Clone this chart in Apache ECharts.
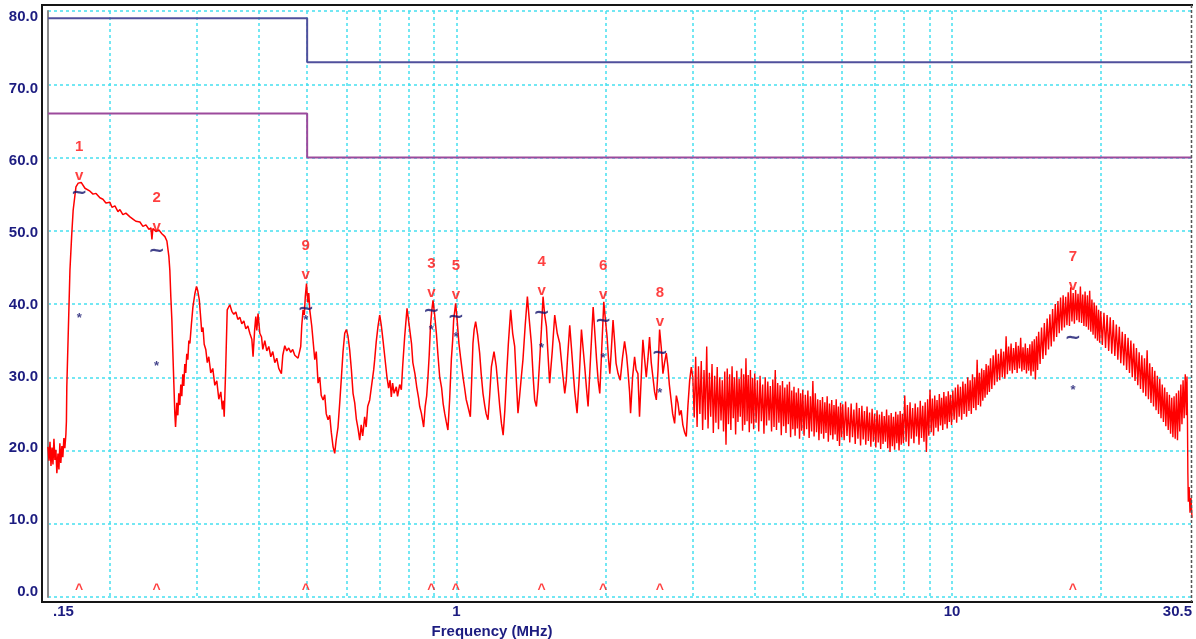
<!DOCTYPE html>
<html>
<head>
<meta charset="utf-8">
<script src="https://cdn.jsdelivr.net/npm/echarts@6/dist/echarts.min.js"></script>
<style>
html,body{margin:0;padding:0;background:#fff;}
#chart{width:1196px;height:639px;}
</style>
</head>
<body>
<div id="chart"></div>
<script>
// ---- Data (frequency in MHz, level in dBuV) ----
const limitQP = [[0.15, 79], [0.5, 79], [0.5, 73], [30.5, 73]];
const limitAV = [[0.15, 66], [0.5, 66], [0.5, 60], [30.5, 60]];

const markerNo   = ['1', '2', '3', '4', '5', '6', '7', '8', '9'];
const markerFreq = [0.1734, 0.2484, 0.8905, 1.486, 0.998, 1.977, 17.54, 2.574, 0.4968];
const markerPeak = [57.7, 50.8, 41.8, 42.0, 41.5, 41.5, 42.8, 37.9, 44.2];
const markerQP   = [55.3, 47.4, 39.2, 38.9, 38.4, 37.9, 35.5, 33.5, 39.5];
const markerAV   = [38.4, 31.9, 36.8, 34.4, 35.9, 33.0, 28.6, 28.2, 38.2];
const markerBaseLevel = 1.6;

const yTickValues = [0, 10, 20, 30, 40, 50, 60, 70, 80];
const xLabelValues = [0.15, 1, 10, 30.5];
const xLabelText = ['{first|.15}', '1', '10', '30.5'];
const xGridValues = [0.2, 0.3, 0.4, 0.5, 0.6, 0.7, 0.8, 0.9, 1, 2, 3, 4, 5, 6, 7, 8, 9, 10, 20];

// measured trace, 0.15 - 3 MHz
const traceLow = [
[0.1500,20.5],[0.1507,18.6],[0.1514,21.2],[0.1521,17.9],[0.1528,20.4],[0.1535,18.1],[0.1542,21.6],[0.1549,18.7],
[0.1556,20.1],[0.1563,16.9],[0.1571,19.6],[0.1578,17.4],[0.1585,21.0],[0.1592,18.3],[0.1600,20.6],[0.1607,19.1],
[0.1615,21.7],[0.1622,20.3],[0.1630,22.2],[0.1634,24.0],[0.1637,28.7],[0.1661,44.6],[0.1674,49.2],[0.1686,52.8],
[0.1708,56.0],[0.1726,56.5],[0.1750,56.6],[0.1781,55.8],[0.1823,55.4],[0.1849,55.0],[0.1875,55.1],[0.1909,54.5],
[0.1936,54.3],[0.1963,53.8],[0.2000,53.9],[0.2019,53.2],[0.2047,53.4],[0.2076,52.6],[0.2095,52.9],[0.2124,52.2],
[0.2154,52.4],[0.2195,51.9],[0.2226,51.6],[0.2256,51.3],[0.2299,51.2],[0.2331,50.6],[0.2364,50.8],[0.2397,50.2],
[0.2420,50.4],[0.2431,48.8],[0.2442,50.3],[0.2476,49.9],[0.2511,50.1],[0.2546,49.6],[0.2582,49.2],[0.2606,48.6],
[0.2630,46.5],[0.2642,44.6],[0.2654,41.0],[0.2667,37.8],[0.2679,33.5],[0.2692,29.0],[0.2704,25.0],[0.2713,23.2],
[0.2729,26.5],[0.2742,24.8],[0.2754,27.8],[0.2767,26.2],[0.2780,29.0],[0.2793,27.4],[0.2806,30.4],[0.2819,28.8],
[0.2832,31.8],[0.2845,30.6],[0.2858,33.2],[0.2872,32.4],[0.2886,35.0],[0.2900,34.6],[0.2920,37.2],[0.2941,39.6],
[0.2968,41.4],[0.2990,42.4],[0.3008,41.8],[0.3029,40.6],[0.3050,38.0],[0.3064,36.2],[0.3082,36.8],[0.3099,34.5],
[0.3122,33.8],[0.3144,32.0],[0.3166,32.8],[0.3195,30.6],[0.3225,31.2],[0.3256,28.9],[0.3286,29.5],[0.3317,27.0],
[0.3348,28.0],[0.3372,25.6],[0.3388,26.8],[0.3401,24.6],[0.3424,31.0],[0.3449,39.2],[0.3491,39.9],[0.3524,39.0],
[0.3556,38.6],[0.3590,38.9],[0.3623,37.9],[0.3657,38.2],[0.3691,37.3],[0.3726,37.7],[0.3760,36.6],[0.3796,37.0],
[0.3831,36.0],[0.3867,35.2],[0.3889,32.8],[0.3918,36.5],[0.3939,38.3],[0.3957,36.4],[0.3980,38.7],[0.4013,36.0],
[0.4045,35.5],[0.4069,33.8],[0.4107,35.0],[0.4145,33.6],[0.4184,34.2],[0.4223,32.8],[0.4262,33.5],[0.4302,32.0],
[0.4342,32.6],[0.4382,31.2],[0.4436,30.5],[0.4465,33.0],[0.4506,34.3],[0.4548,33.6],[0.4590,34.0],[0.4633,33.4],
[0.4676,33.8],[0.4720,33.0],[0.4764,32.8],[0.4793,32.6],[0.4831,33.6],[0.4853,34.2],[0.4876,37.0],[0.4906,39.2],
[0.4934,38.5],[0.4957,41.0],[0.4985,42.8],[0.5014,40.2],[0.5037,41.5],[0.5061,39.2],
[0.5108,37.0],[0.5180,32.4],[0.5216,33.5],[0.5260,29.2],[0.5301,30.0],[0.5338,27.5],[0.5384,26.9],[0.5426,27.6],
[0.5464,25.0],[0.5510,24.2],[0.5553,24.8],[0.5593,22.5],[0.5640,20.5],[0.5683,19.6],[0.5723,21.5],[0.5771,23.2],
[0.5817,26.5],[0.5864,30.1],[0.5907,33.5],[0.5954,36.0],[0.6000,36.5],[0.6045,35.6],[0.6093,33.7],[0.6141,31.0],
[0.6188,27.8],[0.6237,26.5],[0.6286,24.2],[0.6334,23.0],[0.6383,21.4],[0.6427,23.5],[0.6472,22.0],[0.6532,24.6],
[0.6577,23.2],[0.6624,26.0],[0.6686,26.9],[0.6749,29.0],[0.6811,31.0],[0.6843,32.4],[0.6891,34.8],[0.6948,36.9],
[0.7004,38.5],[0.7059,37.0],[0.7111,35.1],[0.7166,33.0],[0.7242,30.1],[0.7300,28.5],[0.7351,29.6],[0.7392,27.3],
[0.7437,29.2],[0.7488,27.8],[0.7565,28.7],[0.7610,27.4],[0.7685,29.0],[0.7745,28.3],[0.7793,31.5],[0.7865,35.5],
[0.7952,39.4],[0.8015,37.6],[0.8120,34.6],[0.8170,32.0],[0.8249,30.5],[0.8317,28.7],[0.8390,27.2],[0.8434,26.0],
[0.8500,25.1],[0.8552,24.0],[0.8591,23.2],[0.8652,26.0],[0.8713,27.5],[0.8766,30.1],[0.8815,33.0],[0.8866,36.9],
[0.8918,39.0],[0.8972,40.5],[0.9042,38.5],[0.9114,36.0],[0.9182,33.0],[0.9254,30.1],[0.9340,28.5],[0.9405,26.4],
[0.9471,25.1],[0.9537,24.0],[0.9616,22.8],[0.9694,27.0],[0.9770,32.4],[0.9830,35.0],[0.9875,37.8],[0.9968,40.1],
[1.0037,37.8],[1.0121,34.6],[1.0202,32.6],[1.0311,30.1],[1.0393,28.5],[1.0465,27.0],[1.0553,26.0],[1.0672,24.6],
[1.0737,29.5],[1.0802,34.6],[1.0862,36.5],[1.0938,37.6],[1.1040,35.8],[1.1144,33.3],[1.1222,30.5],[1.1317,27.8],
[1.1406,26.2],[1.1486,25.0],[1.1583,24.2],[1.1675,27.5],[1.1768,31.4],[1.1912,33.5],[1.2035,31.5],[1.2137,28.7],
[1.2234,26.0],[1.2331,23.7],[1.2429,22.1],[1.2527,25.5],[1.2625,30.1],[1.2731,34.5],[1.2871,39.2],[1.2991,36.0],
[1.3113,34.2],[1.3204,30.0],[1.3315,25.1],[1.3420,27.5],[1.3514,29.8],[1.3627,32.4],[1.3767,37.0],[1.3910,41.0],
[1.4026,38.0],[1.4170,34.6],[1.4290,30.0],[1.4390,26.9],[1.4505,26.0],[1.4614,28.5],[1.4729,32.4],[1.4846,36.5],
[1.4960,41.0],[1.5077,38.5],[1.5197,36.9],[1.5310,33.0],[1.5425,29.2],[1.5612,33.5],[1.5794,38.5],[1.5979,36.0],
[1.6169,34.6],[1.6358,31.0],[1.6547,27.8],[1.6662,29.5],[1.6755,32.4],[1.6935,37.1],[1.7070,34.0],[1.7198,31.0],
[1.7334,28.0],[1.7522,25.1],[1.7700,30.0],[1.7882,36.5],[1.8016,34.0],[1.8159,31.4],[1.8303,28.5],[1.8441,26.0],
[1.8632,32.0],[1.8881,39.6],[1.9031,36.0],[1.9183,32.4],[1.9328,29.5],[1.9471,27.8],[1.9654,34.0],[1.9838,40.3],
[1.9977,38.0],[2.0146,35.5],[2.0277,32.5],[2.0400,30.5],[2.0535,33.5],[2.0709,37.8],[2.0855,35.0],[2.1003,31.9],
[2.1197,30.5],[2.1414,29.6],[2.1626,32.5],[2.1849,34.9],[2.2052,33.0],[2.2185,31.0],[2.2362,28.0],[2.2467,25.1],
[2.2676,30.0],[2.2889,32.8],[2.3050,31.0],[2.3245,30.5],[2.3420,24.6],[2.3608,30.0],[2.3790,35.1],[2.3978,32.5],
[2.4166,30.0],[2.4350,32.5],[2.4536,35.5],[2.4730,32.0],[2.4925,30.0],[2.5120,28.0],[2.5320,26.9],[2.5520,31.0],
[2.5711,36.5],[2.5914,34.0],[2.6112,30.5],[2.6310,32.0],[2.6520,33.3],[2.6720,31.5],[2.6900,29.0],[2.7110,27.0],
[2.7320,25.0],[2.7568,23.7],[2.7790,27.5],[2.7996,26.5],[2.8200,24.8],[2.8420,25.5],[2.8640,23.5],[2.8870,22.5],
[2.9100,21.9],[2.9320,26.0],[2.9560,29.5],[2.9790,31.4],[3.0000,30.0]
];

// measured trace, 3 - 30.5 MHz (dense noise band)
const traceHigh = [
[3.00,30.0],[3.02,24.5],[3.04,32.8],[3.06,23.2],[3.08,31.5],[3.10,25.0],[3.12,32.2],[3.14,22.8],[3.16,31.0],
[3.18,24.2],[3.20,34.2],[3.22,23.0],[3.24,30.6],[3.26,24.6],[3.28,31.8],[3.30,22.4],[3.32,30.2],[3.34,23.8],
[3.36,31.4],[3.38,22.9],[3.40,30.0],[3.42,24.1],[3.44,29.6],[3.46,22.6],[3.48,30.8],[3.50,20.8],[3.52,31.2],
[3.54,23.6],[3.56,30.4],[3.58,22.8],[3.60,31.5],[3.62,24.4],[3.64,30.0],[3.66,22.2],[3.68,30.9],[3.70,23.9],
[3.72,29.8],[3.74,24.6],[3.76,31.2],[3.78,22.7],[3.80,30.4],[3.82,23.5],[3.84,32.6],[3.86,24.0],[3.88,30.3],
[3.90,22.5],[3.92,31.0],[3.94,23.7],[3.96,29.9],[3.98,22.9],[4.00,30.5],
[4.025,23.8],[4.05,29.6],[4.075,22.6],[4.10,30.2],[4.125,24.0],[4.15,29.0],[4.175,22.3],[4.20,30.0],[4.225,23.4],
[4.25,29.4],[4.275,24.1],[4.30,28.8],[4.325,22.6],[4.35,29.7],[4.375,23.2],[4.40,31.0],[4.425,22.8],[4.45,29.2],
[4.475,23.8],[4.50,28.9],[4.525,22.1],[4.55,29.5],[4.575,23.3],[4.60,28.6],[4.625,22.4],[4.65,29.0],[4.675,23.6],
[4.70,29.4],[4.725,21.8],[4.75,28.2],[4.775,22.9],[4.80,28.7],[4.825,22.0],[4.85,27.9],[4.875,23.0],[4.90,28.5],
[4.925,21.6],[4.95,27.8],[4.975,22.7],[5.00,28.3],
[5.03,22.0],[5.06,27.6],[5.09,22.9],[5.12,28.2],[5.15,21.7],[5.18,27.4],[5.21,22.6],[5.24,29.5],[5.27,21.9],
[5.30,27.8],[5.33,22.5],[5.36,27.0],[5.39,21.4],[5.42,26.9],[5.45,22.3],[5.48,27.3],[5.51,21.6],[5.54,26.6],
[5.57,22.4],[5.60,27.4],[5.63,21.2],[5.66,26.4],[5.69,22.1],[5.72,26.9],[5.75,21.5],[5.78,26.2],[5.81,22.2],
[5.84,27.0],[5.87,21.3],[5.90,26.0],[5.93,20.6],[5.96,26.5],[5.99,21.8],
[6.02,26.3],[6.06,21.4],[6.10,26.7],[6.14,22.0],[6.18,25.9],[6.22,21.1],[6.26,26.4],[6.30,21.8],[6.34,25.6],
[6.38,20.9],[6.42,26.5],[6.46,21.6],[6.50,25.8],[6.54,20.7],[6.58,26.1],[6.62,21.5],[6.66,25.4],[6.70,20.8],
[6.74,26.0],[6.78,21.3],[6.82,25.2],[6.86,20.5],[6.90,25.7],[6.94,21.2],[6.98,25.0],
[7.02,20.4],[7.06,25.5],[7.10,21.1],[7.14,24.9],[7.18,20.2],[7.22,25.3],[7.26,20.9],[7.30,24.7],[7.34,21.2],
[7.38,25.6],[7.42,20.3],[7.46,24.8],[7.50,19.8],[7.54,25.1],[7.58,20.6],[7.62,24.6],[7.66,20.1],[7.70,25.3],
[7.74,21.0],[7.78,24.9],[7.82,20.0],[7.86,25.4],[7.90,20.8],[7.94,25.0],[7.98,21.0],
[8.03,27.5],[8.08,21.2],[8.13,26.2],[8.18,20.6],[8.23,26.6],[8.28,21.6],[8.33,25.8],[8.38,21.0],[8.43,26.4],
[8.48,21.9],[8.53,25.9],[8.58,20.8],[8.63,26.8],[8.68,21.7],[8.73,26.1],[8.78,21.2],[8.83,26.6],[8.88,19.8],
[8.93,27.0],[8.98,22.0],[9.03,28.3],[9.08,22.5],[9.13,27.1],[9.18,22.0],[9.23,27.5],[9.28,23.1],[9.33,26.9],
[9.38,22.6],[9.43,27.7],[9.48,23.4],[9.53,27.2],[9.58,22.8],[9.63,28.0],[9.68,23.6],[9.73,27.4],[9.78,23.0],
[9.83,28.1],[9.88,23.9],[9.93,27.6],[9.98,23.5],
[10.04,28.2],[10.10,24.2],[10.16,28.6],[10.22,23.8],[10.28,29.0],[10.34,24.6],[10.40,28.7],[10.46,24.2],
[10.52,29.4],[10.58,25.0],[10.64,29.1],[10.70,24.6],[10.76,30.0],[10.82,25.4],[10.88,29.6],[10.94,25.0],
[11.00,30.4],[11.06,25.8],[11.12,30.0],[11.18,25.5],[11.24,32.4],[11.30,26.2],[11.36,30.6],[11.42,26.0],
[11.48,31.2],[11.54,26.8],[11.60,31.0],[11.66,27.2],[11.72,31.8],[11.78,27.6],[11.84,31.6],[11.90,28.0],
[11.96,32.6],
[12.035,28.4],[12.11,33.0],[12.185,28.9],[12.26,33.8],[12.335,29.4],[12.41,33.2],[12.485,29.6],[12.56,33.9],
[12.635,30.0],[12.71,33.5],[12.785,29.8],[12.86,35.6],[12.935,30.4],[13.01,34.2],[13.085,30.9],[13.16,34.6],
[13.235,30.5],[13.31,34.0],[13.385,31.0],[13.46,34.8],[13.535,30.6],[13.61,34.3],[13.685,31.2],[13.76,35.4],
[13.835,30.8],[13.91,34.1],[13.985,31.0],[14.06,34.6],[14.135,30.5],[14.21,34.0],[14.285,30.9],[14.36,34.5],
[14.435,30.2],[14.51,34.9],[14.585,30.8],[14.66,35.2],[14.735,29.7],[14.81,35.6],[14.885,31.0],[14.96,36.2],
[15.06,31.8],[15.16,36.8],[15.26,32.5],[15.36,37.4],[15.46,33.0],[15.56,38.0],[15.66,33.8],[15.76,38.6],
[15.86,34.2],[15.96,39.3],[16.06,34.9],[16.16,40.0],[16.26,35.5],[16.36,40.4],[16.46,36.0],[16.56,40.9],
[16.66,36.4],[16.76,41.2],[16.86,36.8],[16.96,41.0],[17.06,37.1],[17.16,41.6],[17.26,37.0],[17.36,42.3],
[17.46,37.6],[17.56,41.5],[17.66,37.3],[17.76,41.9],[17.86,37.8],[17.96,41.4],[18.06,37.5],[18.16,42.4],
[18.26,37.4],[18.36,41.3],[18.46,37.0],[18.56,41.7],[18.66,36.9],[18.76,41.2],[18.86,36.5],[18.96,41.8],
[19.06,36.2],[19.16,40.6],[19.26,35.8],[19.36,40.2],[19.46,35.3],[19.56,39.8],[19.66,35.0],[19.76,39.2],
[19.86,34.7],[19.96,39.0],
[20.11,34.4],[20.26,38.8],[20.41,34.0],[20.56,38.5],[20.71,33.6],[20.86,38.2],[21.01,33.2],[21.16,37.8],
[21.31,32.9],[21.46,37.2],[21.61,32.4],[21.76,36.9],[21.91,31.9],[22.06,36.2],[22.21,31.6],[22.36,35.9],
[22.51,31.0],[22.66,35.4],[22.81,30.6],[22.96,35.0],[23.11,30.0],[23.26,34.6],[23.41,29.5],[23.56,34.0],
[23.71,28.9],[23.86,33.4],[24.01,28.4],[24.16,33.0],[24.31,27.9],[24.46,32.6],[24.61,27.4],[24.76,33.7],
[24.91,27.0],[25.06,31.9],[25.21,26.5],[25.36,31.4],[25.51,26.0],[25.66,30.9],[25.81,25.5],[25.96,30.2],
[26.11,25.0],[26.26,29.8],[26.41,24.4],[26.56,29.0],[26.71,23.9],[26.86,28.6],[27.01,23.3],[27.16,28.0],
[27.31,22.8],[27.46,27.6],[27.61,22.3],[27.76,27.2],[27.91,21.8],[28.06,27.4],[28.21,21.6],[28.36,27.8],
[28.51,21.4],[28.66,28.2],[28.81,22.6],[28.96,29.0],[29.11,23.6],[29.26,29.6],[29.41,24.4],[29.56,30.4],
[29.71,24.8],[29.80,30.1],[29.86,24.6],[29.92,16.9],[29.98,13.0],[30.10,15.0],[30.22,11.5],[30.36,13.5],
[30.50,10.8]
];

// ---- Styling ----
const NAVY = '#1c1c80';
const MARKNAVY = '#14146e';
const RED = '#ff1010';
const FONT = "'Liberation Sans', Arial, sans-serif";
const GRIDC = '#45dff0';

function pts(levels) { return markerFreq.map((f, i) => [f, levels[i]]); }

const chart = echarts.init(document.getElementById('chart'), null, { renderer: 'canvas' });

const option = {
  animation: false,
  backgroundColor: '#ffffff',
  grid: { left: 48, right: 4, top: 11, bottom: 42, containLabel: false, outerBoundsMode: 'none' },
  xAxis: {
    type: 'log', logBase: 10, min: 0.15, max: 30.5,
    name: 'Frequency (MHz)', nameLocation: 'middle', nameGap: 25,
    nameTextStyle: { color: NAVY, fontWeight: 'bold', fontSize: 15, fontFamily: FONT, padding: [0, 256, 0, 0] },
    axisLine: { show: false },
    axisTick: { show: false, customValues: xGridValues },
    axisLabel: {
      customValues: xLabelValues,
      formatter: function (v) {
        const i = xLabelValues.findIndex(x => Math.abs(x - v) < 1e-6);
        return i >= 0 ? xLabelText[i] : '';
      },
      rich: { first: { padding: [0, 0, 0, 5], color: NAVY, fontWeight: 'bold', fontSize: 15, fontFamily: FONT } },
      color: NAVY, fontWeight: 'bold', fontSize: 15, fontFamily: FONT, margin: 7,
      alignMinLabel: 'left', alignMaxLabel: 'right'
    },
    splitLine: { show: true, lineStyle: { color: GRIDC, width: 1.5, type: [3, 3] } }
  },
  yAxis: [{
    type: 'value', min: 0, max: 80, interval: 10,
    axisLine: { show: true, lineStyle: { color: '#8a8a8a', width: 2 } },
    axisTick: { show: false },
    axisLabel: { show: false },
    splitLine: { show: true, lineStyle: { color: GRIDC, width: 1.5, type: [3, 3] } }
  }, {
    type: 'value', position: 'left', min: -0.696, max: 80.835,
    axisLine: { show: false }, axisTick: { show: false }, splitLine: { show: false },
    axisLabel: {
      customValues: yTickValues,
      formatter: v => v.toFixed(1),
      color: NAVY, fontWeight: 'bold', fontSize: 15, fontFamily: FONT, margin: 10
    }
  }],
  graphic: [
    { type: 'polyline', z: 100, silent: true,
      shape: { points: [[1193, 5], [42, 5], [42, 602], [1193, 602]] },
      style: { stroke: '#151515', lineWidth: 2, fill: null } },
    { type: 'line', z: 100, silent: true,
      shape: { x1: 1191.5, y1: 5, x2: 1191.5, y2: 602 },
      style: { stroke: '#555', lineWidth: 1.5, lineDash: [3, 2] } }
  ],
  series: [
    { name: 'QP limit', type: 'line', data: limitQP, showSymbol: false, z: 3,
      lineStyle: { color: '#50509c', width: 2 } },
    { name: 'AV limit', type: 'line', data: limitAV, showSymbol: false, z: 3,
      lineStyle: { color: '#9c4a9c', width: 2 } },
    { name: 'Trace low', type: 'line', data: traceLow, showSymbol: false, z: 4,
      lineStyle: { color: '#ff0000', width: 1.5 } },
    { name: 'Trace high', type: 'line', data: traceHigh, showSymbol: false, z: 4,
      lineStyle: { color: '#ff0000', width: 1.4 } },
    { name: 'Peak', type: 'scatter', data: pts(markerPeak), symbolSize: 1, z: 6,
      itemStyle: { color: 'rgba(0,0,0,0)' },
      label: { show: true, position: 'inside', formatter: 'v', color: RED, fontWeight: 'bold', fontSize: 15, fontFamily: FONT, offset: [0, 2] } },
    { name: 'Number', type: 'scatter', data: pts(markerPeak), symbolSize: 1, z: 6,
      itemStyle: { color: 'rgba(0,0,0,0)' },
      label: { show: true, position: 'inside', formatter: p => markerNo[p.dataIndex], color: RED, fontWeight: 'bold', fontSize: 15, fontFamily: FONT, offset: [0, -27] } },
    { name: 'QP', type: 'scatter', data: pts(markerQP), symbolSize: 1, z: 6,
      itemStyle: { color: 'rgba(0,0,0,0)' },
      label: { show: true, position: 'inside', formatter: '~', color: MARKNAVY, fontWeight: 'bold', fontSize: 20, fontFamily: "'DejaVu Sans', sans-serif", offset: [0, 1] } },
    { name: 'AV', type: 'scatter', data: pts(markerAV), symbolSize: 1, z: 6,
      itemStyle: { color: 'rgba(0,0,0,0)' },
      label: { show: true, position: 'inside', formatter: '*', color: MARKNAVY, fontWeight: 'bold', fontSize: 13, fontFamily: FONT, offset: [0, 3] } },
    { name: 'Base', type: 'scatter', data: markerFreq.map(f => [f, markerBaseLevel]), symbolSize: 1, z: 6,
      itemStyle: { color: 'rgba(0,0,0,0)' },
      label: { show: true, position: 'inside', formatter: '^', color: RED, fontWeight: 'bold', fontSize: 14, fontFamily: FONT, offset: [0, 5] } }
  ]
};
chart.setOption(option);
</script>
</body>
</html>
